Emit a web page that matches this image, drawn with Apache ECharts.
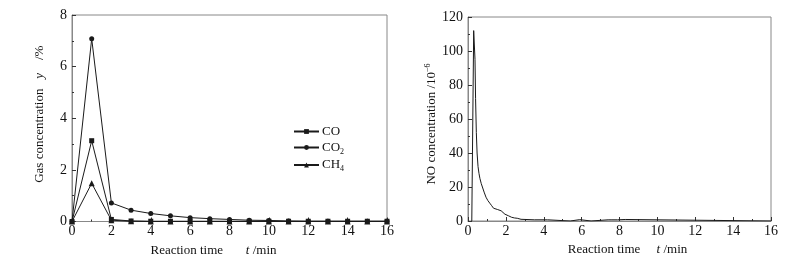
<!DOCTYPE html>
<html>
<head>
<meta charset="utf-8">
<script src="https://cdn.jsdelivr.net/npm/echarts@6/dist/echarts.min.js"></script>
<style>
html,body{margin:0;padding:0;background:#fff;}
#main{width:796px;height:262px;}
</style>
</head>
<body>
<div id="main"></div>
<script>
// left chart: gas concentration, one reading per minute
var minutes = [0, 1, 2, 3, 4, 5, 6, 7, 8, 9, 10, 11, 12, 13, 14, 15, 16];
var coVals = [0, 3.13, 0.08, 0.02, 0.01, 0.01, 0.01, 0.01, 0.01, 0.01, 0.01, 0.01, 0.01, 0.01, 0.01, 0.01, 0.01];
var co2Vals = [0, 7.08, 0.72, 0.44, 0.31, 0.22, 0.15, 0.11, 0.08, 0.05, 0.04, 0.02, 0.01, 0.01, 0.01, 0.01, 0.01];
var ch4Vals = [0, 1.48, 0.05, 0.01, 0, 0, 0, 0, 0, 0, 0, 0, 0, 0, 0, 0, 0];

// right chart: NO concentration trace
var noT = [0.2, 0.21, 0.3, 0.33, 0.37, 0.4, 0.44, 0.48, 0.53, 0.58, 0.63, 0.7, 0.76, 0.85, 0.95, 1.05, 1.15, 1.25, 1.35, 1.45, 1.55, 1.65, 1.75, 1.85, 1.95, 2.05, 2.15, 2.3, 2.45, 2.6, 2.8, 2.85, 3.5, 4.2, 4.25, 5.4, 5.45, 5.9, 5.95, 6.5, 6.55, 7.4, 7.5, 7.6, 7.9, 8.0, 8.3, 8.35, 16];
var noV = [0, 0, 112, 111, 95, 72, 52, 40, 32, 28, 25, 22, 20, 17, 14, 12, 10.5, 9, 7.5, 7, 6.8, 6.6, 6, 5, 4, 3.4, 3, 2.2, 1.8, 1.6, 1, 0.7, 0.7, 0.7, 0, 0, 0.8, 0.8, 0, 0, 0.7, 0.7, 1, 0.7, 0.7, 1, 0.9, 0, 0];

function pairs(xs, ys) {
    var out = [];
    for (var i = 0; i < xs.length; i++) out.push([xs[i], ys[i]]);
    return out;
}

var FONT = 'Liberation Serif';
var axisGray = '#888';
var lineCol = '#1a1a1a';

var richName = {
    n: {fontFamily: FONT, fontSize: 13, color: '#111', lineHeight: 16},
    i: {fontFamily: FONT, fontSize: 13, color: '#111', fontStyle: 'italic', lineHeight: 16},
    sup: {fontFamily: FONT, fontSize: 8, color: '#111', lineHeight: 8, verticalAlign: 'top'}
};

function xAx(idx, name, pad) {
    return {
        type: 'value', gridIndex: idx, min: 0, max: 16, interval: 2,
        name: name, nameLocation: 'middle', nameGap: 21,
        nameTextStyle: {fontFamily: FONT, fontSize: 13, color: '#111', padding: pad, rich: richName},
        axisLine: {lineStyle: {color: axisGray, width: 1}},
        axisTick: {inside: true, length: 4, lineStyle: {color: '#333'}},
        minorTick: {show: true, splitNumber: 2, length: 2, lineStyle: {color: '#333'}},
        axisLabel: {fontFamily: FONT, fontSize: 14, color: '#111', margin: 3},
        splitLine: {show: false}
    };
}

function yAx(idx, max, step, name, gap, pad) {
    return {
        type: 'value', gridIndex: idx, min: 0, max: max, interval: step,
        name: name, nameLocation: 'middle', nameGap: gap,
        nameTextStyle: {fontFamily: FONT, fontSize: 13, color: '#111', padding: pad, rich: richName},
        axisLine: {lineStyle: {color: axisGray, width: 1}},
        axisTick: {inside: true, length: 4, lineStyle: {color: '#333'}},
        minorTick: {show: true, splitNumber: 2, length: 2, lineStyle: {color: '#333'}},
        axisLabel: {fontFamily: FONT, fontSize: 14, color: '#111', margin: 5},
        splitLine: {show: false}
    };
}

function gasSeries(name, vals, symbol) {
    return {
        name: name, type: 'line', xAxisIndex: 0, yAxisIndex: 0,
        data: pairs(minutes, vals),
        symbol: symbol, symbolSize: symbol == 'triangle' ? 6 : 5,
        lineStyle: {color: lineCol, width: 1},
        itemStyle: {color: lineCol},
        animation: false
    };
}

var myChart = echarts.init(document.getElementById('main'), null, {renderer: 'canvas'});
var option = {
    backgroundColor: '#fff',
    animation: false,
    grid: [
        {left: 72, top: 15, width: 315, height: 208, show: true, borderColor: axisGray, borderWidth: 1},
        {left: 468, top: 17, width: 303, height: 204, show: true, borderColor: axisGray, borderWidth: 1}
    ],
    legend: {
        orient: 'vertical', left: 288, top: 120,
        itemWidth: 25, itemHeight: 6, itemGap: 3,
        data: ['CO', 'CO2', 'CH4'],
        formatter: function (name) {
            if (name == 'CO2') return '{n|CO}{sub|2}';
            if (name == 'CH4') return '{n|CH}{sub|4}';
            return '{n|CO}';
        },
        textStyle: {
            fontFamily: FONT, fontSize: 13, color: '#111', padding: [0, 0, 0, -2],
            rich: {
                n: {fontFamily: FONT, fontSize: 13, color: '#111', lineHeight: 16},
                sub: {fontFamily: FONT, fontSize: 8, color: '#111', lineHeight: 8, verticalAlign: 'bottom'}
            }
        }
    },
    xAxis: [
        xAx(0, '{n|Reaction time}       {i|t} {n|/min}', [0, 32, 0, 0]),
        xAx(1, '{n|Reaction time}     {i|t} {n|/min}', [0, 0, 0, 16])
    ],
    yAxis: [
        yAx(0, 8, 2, '{n|Gas concentration}   {i|y}    {n|/%}', 24, [0, 0, 0, 8]),
        yAx(1, 120, 20, '{n|NO concentration /10}{sup|\u22126}', 24, [0, 10, 0, 0])
    ],
    series: [
        gasSeries('CO', coVals, 'rect'),
        gasSeries('CO2', co2Vals, 'circle'),
        gasSeries('CH4', ch4Vals, 'triangle'),
        {
            name: 'NO', type: 'line', xAxisIndex: 1, yAxisIndex: 1,
            data: pairs(noT, noV),
            showSymbol: false, symbol: 'none',
            lineStyle: {color: lineCol, width: 1},
            animation: false
        }
    ]
};
myChart.setOption(option);
</script>
</body>
</html>
